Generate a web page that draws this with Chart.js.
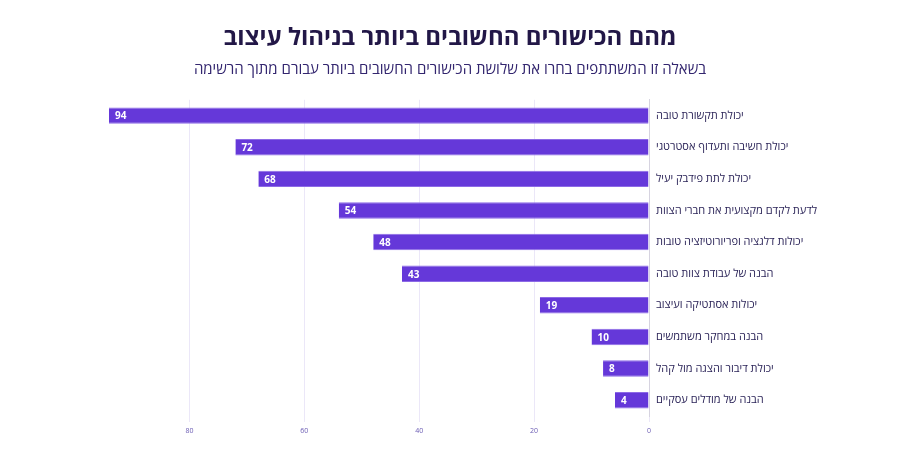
<!DOCTYPE html>
<html lang="he">
<head>
<meta charset="utf-8">
<script src="https://cdn.jsdelivr.net/npm/chart.js@4"></script>
<style>
  html, body { margin: 0; padding: 0; background: #fff; }
  #wrap { width: 900px; height: 450px; }
</style>
</head>
<body>
<div id="wrap"><canvas id="skillsChart"></canvas></div>
<script>
const chartTitle = 'מהם הכישורים החשובים ביותר בניהול עיצוב';
const chartSubtitle = 'בשאלה זו המשתתפים בחרו את שלושת הכישורים החשובים ביותר עבורם מתוך הרשימה';

const skills = [
  'יכולת תקשורת טובה',
  'יכולת חשיבה ותעדוף אסטרטגי',
  'יכולת לתת פידבק יעיל',
  'לדעת לקדם מקצועית את חברי הצוות',
  'יכולות דלגציה ופריורוטיזציה טובות',
  'הבנה של עבודת צוות טובה',
  'יכולות אסתטיקה ועיצוב',
  'הבנה במחקר משתמשים',
  'יכולת דיבור והצגה מול קהל',
  'הבנה של מודלים עסקיים',
];

const votes = [94, 72, 68, 54, 48, 43, 19, 10, 8, 4];

const xTicks = [0, 20, 40, 60, 80];

const barColor = '#6538d9';
const fontFamily = '"Open Sans", "DejaVu Sans", sans-serif';

// white value label at the far (left) end of each bar
const valueLabels = {
  id: 'valueLabels',
  afterDatasetsDraw(chart) {
    const ctx = chart.ctx;
    const meta = chart.getDatasetMeta(0);
    ctx.save();
    ctx.fillStyle = '#ffffff';
    ctx.font = 'bold 10px ' + fontFamily;
    ctx.textAlign = 'left';
    ctx.textBaseline = 'middle';
    meta.data.forEach((bar, i) => {
      ctx.fillText(String(votes[i]), bar.x + 6, bar.y + 1);
    });
    ctx.restore();
  }
};

new Chart(document.getElementById('skillsChart'), {
  type: 'bar',
  data: {
    labels: skills,
    datasets: [{
      data: votes,
      backgroundColor: barColor,
      borderColor: '#8d6ae6',
      borderWidth: { top: 1, bottom: 1, left: 0, right: 0 },
      borderSkipped: false,
      barPercentage: 0.52,
      categoryPercentage: 1,
      minBarLength: 34,
    }],
  },
  options: {
    indexAxis: 'y',
    responsive: true,
    maintainAspectRatio: false,
    animation: false,
    layout: { padding: 0 },
    plugins: {
      legend: { display: false },
      tooltip: { enabled: false },
      title: {
        display: true,
        text: chartTitle,
        color: '#221747',
        font: { family: fontFamily, size: 24, weight: 'bold', lineHeight: 1.2 },
        padding: { top: 24, bottom: 8 },
      },
      subtitle: {
        display: true,
        text: chartSubtitle,
        color: '#33266f',
        font: { family: fontFamily, size: 15, weight: 'normal', lineHeight: 1.2 },
        padding: { top: 0, bottom: 21 },
      },
    },
    scales: {
      x: {
        reverse: true,
        min: 0,
        max: Math.max(...votes),
        afterBuildTicks(scale) {
          scale.ticks = xTicks.map(v => ({ value: v }));
        },
        afterFit(scale) { scale.height = 34; },
        grid: {
          color: '#ebe7f8',
          lineWidth: 1,
          drawTicks: true,
          tickLength: 6,
        },
        border: { display: false },
        ticks: {
          color: '#6a5bb3',
          font: { family: fontFamily, size: 7 },
          padding: 5,
          maxRotation: 0,
        },
      },
      y: {
        position: 'right',
        afterFit(scale) { scale.width = 251; },
        grid: { display: false, drawTicks: false },
        border: { display: true, color: '#d6d3e0', width: 1 },
        ticks: {
          color: '#2b2458',
          font: { family: fontFamily, size: 11 },
          padding: 7,
        },
      },
      // empty spacer on the left so the titles stay centred on the page
      spacer: {
        type: 'category',
        axis: 'y',
        position: 'left',
        afterFit(scale) { scale.width = 109; },
        grid: { display: false, drawTicks: false },
        border: { display: false },
        ticks: { display: false },
      },
    },
  },
  plugins: [valueLabels],
});
</script>
</body>
</html>
